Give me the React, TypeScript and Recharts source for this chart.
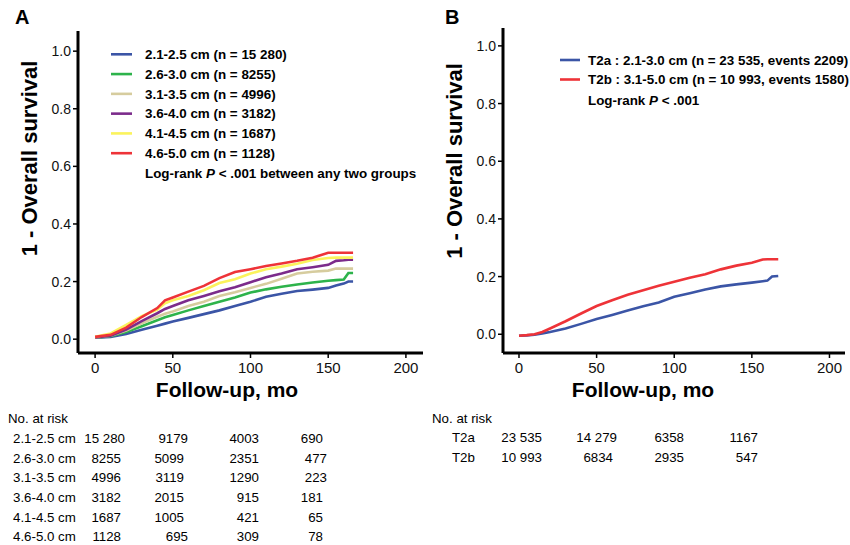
import React from 'react';
import { LineChart, Line, XAxis, YAxis } from 'recharts';

const FONT = '"Liberation Sans", Arial, Helvetica, sans-serif';

// ---------- Panel A data ----------
const A_TIMES = [0, 10, 20, 30, 40, 45, 50, 60, 70, 80, 90, 100, 110, 120, 130, 140, 150, 155, 160, 163, 166];
const A_BLUE = [0.005, 0.008, 0.018, 0.033, 0.047, 0.054, 0.061, 0.074, 0.087, 0.1, 0.115, 0.13, 0.147, 0.158, 0.167, 0.172, 0.178, 0.186, 0.193, 0.2, 0.2];
const A_GREEN = [0.005, 0.01, 0.025, 0.045, 0.066, 0.076, 0.084, 0.1, 0.115, 0.13, 0.145, 0.162, 0.173, 0.182, 0.19, 0.197, 0.203, 0.205, 0.207, 0.23, 0.23];
const A_TAN = [0.006, 0.012, 0.03, 0.055, 0.078, 0.088, 0.096, 0.115, 0.13, 0.15, 0.163, 0.178, 0.192, 0.21, 0.228, 0.234, 0.238, 0.245, 0.245, 0.245, 0.245];
const A_PURPLE = [0.006, 0.012, 0.033, 0.063, 0.09, 0.105, 0.115, 0.135, 0.15, 0.166, 0.18, 0.198, 0.215, 0.228, 0.243, 0.25, 0.258, 0.272, 0.274, 0.276, 0.276];
const A_YELLOW = [0.008, 0.02, 0.05, 0.08, 0.103, 0.125, 0.135, 0.15, 0.17, 0.195, 0.208, 0.228, 0.243, 0.252, 0.262, 0.275, 0.282, 0.283, 0.283, 0.283, 0.283];
const A_RED = [0.008, 0.015, 0.04, 0.077, 0.108, 0.135, 0.145, 0.165, 0.185, 0.212, 0.233, 0.243, 0.254, 0.263, 0.272, 0.283, 0.3, 0.3, 0.3, 0.3, 0.3];

const A_SERIES = [
  { key: 'blue', label: '2.1-2.5 cm (n = 15 280)', color: '#3b55a6', values: A_BLUE },
  { key: 'green', label: '2.6-3.0 cm (n = 8255)', color: '#2db34b', values: A_GREEN },
  { key: 'tan', label: '3.1-3.5 cm (n = 4996)', color: '#d6cc9e', values: A_TAN },
  { key: 'purple', label: '3.6-4.0 cm (n = 3182)', color: '#7c2b8b', values: A_PURPLE },
  { key: 'yellow', label: '4.1-4.5 cm (n = 1687)', color: '#fbf35c', values: A_YELLOW },
  { key: 'red', label: '4.6-5.0 cm (n = 1128)', color: '#ee3338', values: A_RED },
];

// ---------- Panel B data ----------
const B_TIMES = [0, 5, 10, 15, 20, 30, 40, 50, 60, 70, 80, 90, 100, 110, 120, 130, 140, 150, 157, 160, 163, 167];
const B_T2A = [-0.005, -0.004, -0.002, 0.003, 0.008, 0.02, 0.036, 0.053, 0.067, 0.082, 0.097, 0.11, 0.13, 0.142, 0.155, 0.166, 0.173, 0.179, 0.184, 0.186, 0.2, 0.202];
const B_T2B = [-0.005, -0.003, 0.0, 0.008, 0.02, 0.045, 0.072, 0.098, 0.118, 0.137, 0.153, 0.168, 0.182, 0.196, 0.208, 0.225, 0.238, 0.248, 0.259, 0.26, 0.26, 0.26];

const B_SERIES = [
  { key: 't2a', label: 'T2a : 2.1-3.0 cm (n = 23 535, events 2209)', color: '#3b55a6', values: B_T2A },
  { key: 't2b', label: 'T2b : 3.1-5.0 cm (n = 10 993, events 1580)', color: '#ee3338', values: B_T2B },
];

// ---------- ticks ----------
const X_TICKS = [0, 50, 100, 150, 200];
const Y_TICKS = [0, 0.2, 0.4, 0.6, 0.8, 1.0];

// ---------- risk tables ----------
const RISK_A_LABELS = ['2.1-2.5 cm', '2.6-3.0 cm', '3.1-3.5 cm', '3.6-4.0 cm', '4.1-4.5 cm', '4.6-5.0 cm'];
const RISK_A_VALUES = [
  ['15 280', '9179', '4003', '690'],
  ['8255', '5099', '2351', '477'],
  ['4996', '3119', '1290', '223'],
  ['3182', '2015', '915', '181'],
  ['1687', '1005', '421', '65'],
  ['1128', '695', '309', '78'],
];
const RISK_B_LABELS = ['T2a', 'T2b'];
const RISK_B_VALUES = [
  ['23 535', '14 279', '6358', '1167'],
  ['10 993', '6834', '2935', '547'],
];

// layout (right edges of risk-table cells)
const RISK_A_RIGHT = [
  [125, 188, 259, 323],
  [121, 184, 259, 327],
  [121, 184, 259, 327],
  [121, 184, 259, 323],
  [121, 184, 259, 323],
  [121, 188, 259, 323],
];
const RISK_B_RIGHT = [
  [542, 617, 684, 758],
  [542, 613, 684, 758],
];

const A_DATA = A_TIMES.map((t, i) => {
  const row: Record<string, number> = { t };
  A_SERIES.forEach((s) => (row[s.key] = s.values[i]));
  return row;
});
const B_DATA = B_TIMES.map((t, i) => {
  const row: Record<string, number> = { t };
  B_SERIES.forEach((s) => (row[s.key] = s.values[i]));
  return row;
});

const axisLine = { stroke: '#000', strokeWidth: 3 };
const tickLine = { stroke: '#000', strokeWidth: 1.5 };

function Panel({ data, series, yDomain, xDomain, top, right }: any) {
  return (
    <LineChart
      width={right ? 425 : 430}
      height={400}
      data={data}
      margin={{ top, right: right ? 5 : 7, bottom: 17, left: 18 }}
    >
      <XAxis
        type="number"
        dataKey="t"
        domain={xDomain}
        allowDataOverflow
        ticks={X_TICKS}
        height={30}
        axisLine={axisLine}
        tickLine={tickLine}
        tickSize={5}
        tickMargin={4}
        tick={{ fill: '#111', fontSize: 15, fontFamily: FONT }}
      />
      <YAxis
        type="number"
        domain={yDomain}
        allowDataOverflow
        ticks={Y_TICKS}
        width={60}
        axisLine={axisLine}
        tickLine={tickLine}
        tickSize={5}
        tickMargin={2}
        tickFormatter={(v: number) => v.toFixed(1)}
        tick={{ fill: '#111', fontSize: 14, fontFamily: FONT }}
      />
      {series.map((s: any) => (
        <Line
          key={s.key}
          type="linear"
          dataKey={s.key}
          stroke={s.color}
          strokeWidth={2.6}
          dot={false}
          isAnimationActive={false}
        />
      ))}
    </LineChart>
  );
}

export default function App() {
  return (
    <div style={{ position: 'absolute', left: 0, top: 0, width: 850, height: 545, background: '#fff', overflow: 'hidden' }}>
      <div style={{ position: 'absolute', left: 0, top: 0 }}>
        <Panel data={A_DATA} series={A_SERIES} yDomain={[-0.048, 1.07]} xDomain={[-11, 211]} top={31} />
      </div>
      <div style={{ position: 'absolute', left: 425, top: 0 }}>
        <Panel data={B_DATA} series={B_SERIES} yDomain={[-0.065, 1.062]} xDomain={[-10.3, 210]} top={28} right />
      </div>
      <svg
        width={850}
        height={545}
        style={{ position: 'absolute', left: 0, top: 0, pointerEvents: 'none' }}
        fontFamily={FONT}
      >
        {/* panel letters */}
        <text x={15} y={24} fontSize={20} fontWeight="bold" fill="#000">A</text>
        <text x={445} y={24} fontSize={20} fontWeight="bold" fill="#000">B</text>

        {/* axis titles */}
        <text x={36.5} y={158.5} transform="rotate(-90 36.5 158.5)" textAnchor="middle" fontSize={22} fontWeight="bold" fill="#000">
          1 - Overall survival
        </text>
        <text x={462} y={161} transform="rotate(-90 462 161)" textAnchor="middle" fontSize={22} fontWeight="bold" fill="#000">
          1 - Overall survival
        </text>
        <text x={227} y={397} textAnchor="middle" fontSize={21} fontWeight="bold" fill="#000">Follow-up, mo</text>
        <text x={643} y={397} textAnchor="middle" fontSize={21} fontWeight="bold" fill="#000">Follow-up, mo</text>

        {/* legend A */}
        {A_SERIES.map((s, i) => {
          const y = 54.3 + i * 19.78;
          return (
            <g key={s.key}>
              <line x1={111} x2={132} y1={y} y2={y} stroke={s.color} strokeWidth={2.6} />
              <text x={145} y={y + 4.8} fontSize={13.4} fontWeight="bold" fill="#000">{s.label}</text>
            </g>
          );
        })}
        <text x={145} y={173 + 4.8} fontSize={13.4} fontWeight="bold" fill="#000">
          Log-rank <tspan fontStyle="italic">P</tspan> &lt; .001 between any two groups
        </text>

        {/* legend B */}
        {B_SERIES.map((s, i) => {
          const y = 60 + i * 19.5;
          return (
            <g key={s.key}>
              <line x1={560} x2={580} y1={y} y2={y} stroke={s.color} strokeWidth={2.6} />
              <text x={588} y={y + 4.8} fontSize={13.4} fontWeight="bold" fill="#000">{s.label}</text>
            </g>
          );
        })}
        <text x={588} y={100 + 4.8} fontSize={13.4} fontWeight="bold" fill="#000">
          Log-rank <tspan fontStyle="italic">P</tspan> &lt; .001
        </text>

        {/* risk table A */}
        <text x={8} y={418 + 4.7} fontSize={13.3} fill="#000">No. at risk</text>
        {RISK_A_LABELS.map((lab, r) => {
          const y = 438.3 + r * 19.65 + 4.7;
          return (
            <g key={lab}>
              <text x={13} y={y} fontSize={13.3} fill="#000">{lab}</text>
              {RISK_A_VALUES[r].map((v, c) => (
                <text key={c} x={RISK_A_RIGHT[r][c]} y={y} textAnchor="end" fontSize={13.3} fill="#000">{v}</text>
              ))}
            </g>
          );
        })}

        {/* risk table B */}
        <text x={432} y={418 + 4.7} fontSize={13.3} fill="#000">No. at risk</text>
        {RISK_B_LABELS.map((lab, r) => {
          const y = 437.7 + r * 20 + 4.7;
          return (
            <g key={lab}>
              <text x={452} y={y} fontSize={13.3} fill="#000">{lab}</text>
              {RISK_B_VALUES[r].map((v, c) => (
                <text key={c} x={RISK_B_RIGHT[r][c]} y={y} textAnchor="end" fontSize={13.3} fill="#000">{v}</text>
              ))}
            </g>
          );
        })}
      </svg>
    </div>
  );
}
